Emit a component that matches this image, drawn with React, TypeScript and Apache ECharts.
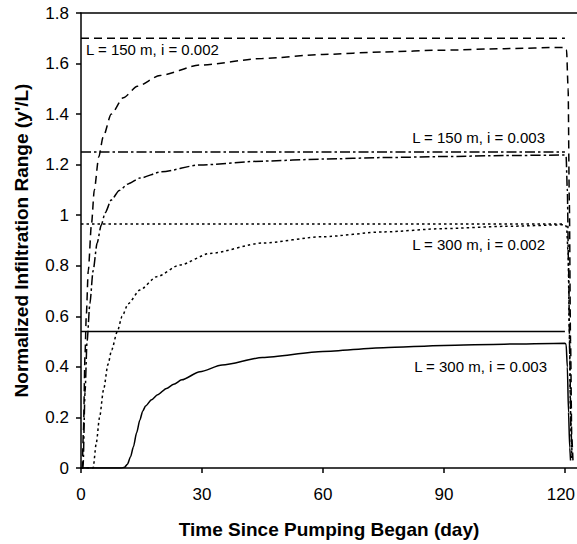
import React, { useEffect, useRef } from "react";
import * as echarts from "echarts";

const xTickValues = [0, 30, 60, 90, 120];
const yMin = 0;
const yMax = 1.8;
const yStep = 0.2;
const xMin = 0;
const xMax = 123;

// L = 150 m, i = 0.002 (long dash)
const a_x = [0, 0.3, 0.6, 1.0, 1.3, 1.8, 2.6, 3.3, 4.4, 5.5, 7.5, 10.5, 14, 19.6, 29.5, 45, 60, 75, 90, 105, 120, 120.4, 120.8, 121.1, 121.4, 121.7, 122];
const a_y = [0, 0, 0.15, 0.45, 0.6, 0.78, 0.965, 1.1, 1.23, 1.31, 1.40, 1.465, 1.51, 1.553, 1.594, 1.62, 1.636, 1.646, 1.653, 1.659, 1.664, 1.655, 1.5, 1.05, 0.5, 0.12, 0.03];

// L = 150 m, i = 0.003 (dash-dot)
const b_x = [0, 0.5, 1.0, 1.5, 2.2, 3.0, 4.0, 5.0, 6.0, 7.5, 9.5, 11.7, 14.6, 20, 29.5, 45, 60, 75, 90, 105, 120, 120.3, 120.6, 120.9, 121.2, 121.5, 121.8];
const b_y = [0, 0, 0.3, 0.5, 0.65, 0.78, 0.89, 0.96, 1.01, 1.06, 1.098, 1.124, 1.147, 1.172, 1.199, 1.214, 1.222, 1.228, 1.232, 1.236, 1.238, 1.232, 1.1, 0.8, 0.45, 0.15, 0.04];

// L = 300 m, i = 0.002 (dotted)
const c_x = [0, 3.0, 3.8, 4.6, 5.6, 6.7, 7.6, 9.0, 10.2, 11.7, 14.6, 18.8, 24.5, 32, 45, 60, 75, 90, 105, 120, 120.4, 120.8, 121.1, 121.4, 121.7];
const c_y = [0, 0, 0.1, 0.2, 0.31, 0.41, 0.467, 0.54, 0.6, 0.65, 0.704, 0.757, 0.803, 0.849, 0.89, 0.915, 0.934, 0.947, 0.956, 0.962, 0.955, 0.85, 0.55, 0.2, 0.04];

// L = 300 m, i = 0.003 (solid)
const d_x = [0, 7, 10, 10.8, 11.5, 12.3, 13, 13.8, 14.6, 15.3, 16, 17.5, 19, 21.2, 23, 25, 29.5, 35, 45, 60, 75, 90, 105, 120, 120.3, 120.6, 120.9, 121.2, 121.4];
const d_y = [0, 0, 0, 0.003, 0.015, 0.045, 0.084, 0.14, 0.19, 0.225, 0.245, 0.27, 0.29, 0.315, 0.331, 0.349, 0.381, 0.407, 0.437, 0.461, 0.476, 0.485, 0.49, 0.494, 0.49, 0.4, 0.22, 0.08, 0.03];

// steady-state (asymptote) values
const asymptoteValues = [1.70, 1.25, 0.965, 0.54];
const asymptoteX = [0, 120];

const labels = ["L = 150 m, i = 0.002", "L = 150 m, i = 0.003", "L = 300 m, i = 0.002", "L = 300 m, i = 0.003"];

const FONT = "Arial, 'Liberation Sans', sans-serif";

const dashA = [8, 5];
const dashB = [10, 3, 2.5, 3];
const dashC = [2.5, 3];

function pairs(xs: number[], ys: number[]) {
  return xs.map((x, i) => [x, ys[i]]);
}

export default function App() {
  const ref = useRef<HTMLDivElement>(null);
  useEffect(() => {
    if (!ref.current) return;
    const chart = echarts.init(ref.current, null, { renderer: "svg" });
    const lineTypes: any[] = [dashA, dashB, dashC, "solid"];
    const curves = [pairs(a_x, a_y), pairs(b_x, b_y), pairs(c_x, c_y), pairs(d_x, d_y)];
    const series: any[] = [];
    curves.forEach((data, k) => {
      series.push({
        type: "line",
        data,
        showSymbol: false,
        smooth: 0.25,
        smoothMonotone: "x",
        lineStyle: { color: "#000", width: 1.5, type: lineTypes[k] },
        silent: true,
      });
      series.push({
        type: "line",
        data: asymptoteX.map((x) => [x, asymptoteValues[k]]),
        showSymbol: false,
        lineStyle: { color: "#000", width: 1.5, type: lineTypes[k] },
        silent: true,
      });
    });
    const labelFont = `15px ${FONT}`;
    const lastTick = xTickValues[xTickValues.length - 1];
    chart.setOption({
      animation: false,
      grid: { left: 81, right: 0, top: 13, bottom: 76, containLabel: false, outerBoundsMode: "none" },
      xAxis: [
        {
          type: "value",
          min: xMin,
          max: xMax,
          interval: 30,
          name: "Time Since Pumping Began (day)",
          nameLocation: "middle",
          nameGap: 52,
          nameTextStyle: { fontFamily: FONT, fontWeight: "bold", fontSize: 19, color: "#000" },
          axisLine: { show: true, onZero: false, lineStyle: { color: "#000", width: 1.5 } },
          axisTick: { show: true, inside: false, length: 5, lineStyle: { color: "#000", width: 1.5 }, customValues: xTickValues },
          axisLabel: {
            fontFamily: FONT,
            fontSize: 17,
            color: "#000",
            margin: 18,
            customValues: xTickValues,
            formatter: (v: number) => (v === lastTick ? `{e|${v}}` : String(v)),
            rich: { e: { fontFamily: FONT, fontSize: 17, color: "#000", padding: [0, 8, 0, 0] } },
          },
          splitLine: { show: false },
        },
        {
          type: "value",
          position: "top",
          min: xMin,
          max: xMax,
          axisLine: { show: true, onZero: false, lineStyle: { color: "#000", width: 1.5 } },
          axisTick: { show: false },
          axisLabel: { show: false },
          splitLine: { show: false },
        },
      ],
      yAxis: {
        type: "value",
        min: yMin,
        max: yMax,
        interval: yStep,
        name: "Normalized Infiltration Range (y'/L)",
        nameLocation: "middle",
        nameGap: 50,
        nameTextStyle: { fontFamily: FONT, fontWeight: "bold", fontSize: 19, color: "#000" },
        axisLine: { show: true, onZero: false, lineStyle: { color: "#000", width: 1.5 } },
        axisTick: { show: true, inside: false, length: 5, lineStyle: { color: "#000", width: 1.5 } },
        axisLabel: { fontFamily: FONT, fontSize: 17, color: "#000", margin: 12 },
        splitLine: { show: false },
      },
      series,
      graphic: [
        { type: "text", left: 86, top: 42, style: { text: labels[0], font: labelFont, fill: "#000" } },
        { type: "text", x: 545, y: 137, style: { text: labels[1], font: labelFont, fill: "#000", textAlign: "right", textVerticalAlign: "middle" } },
        { type: "text", x: 545, y: 244, style: { text: labels[2], font: labelFont, fill: "#000", textAlign: "right", textVerticalAlign: "middle" } },
        { type: "text", x: 547, y: 366, style: { text: labels[3], font: labelFont, fill: "#000", textAlign: "right", textVerticalAlign: "middle" } },
      ],
    });
    return () => chart.dispose();
  }, []);
  return (
    <div
      ref={ref}
      style={{ position: "fixed", left: 0, top: 0, width: 577, height: 544, background: "#fff" }}
    />
  );
}
